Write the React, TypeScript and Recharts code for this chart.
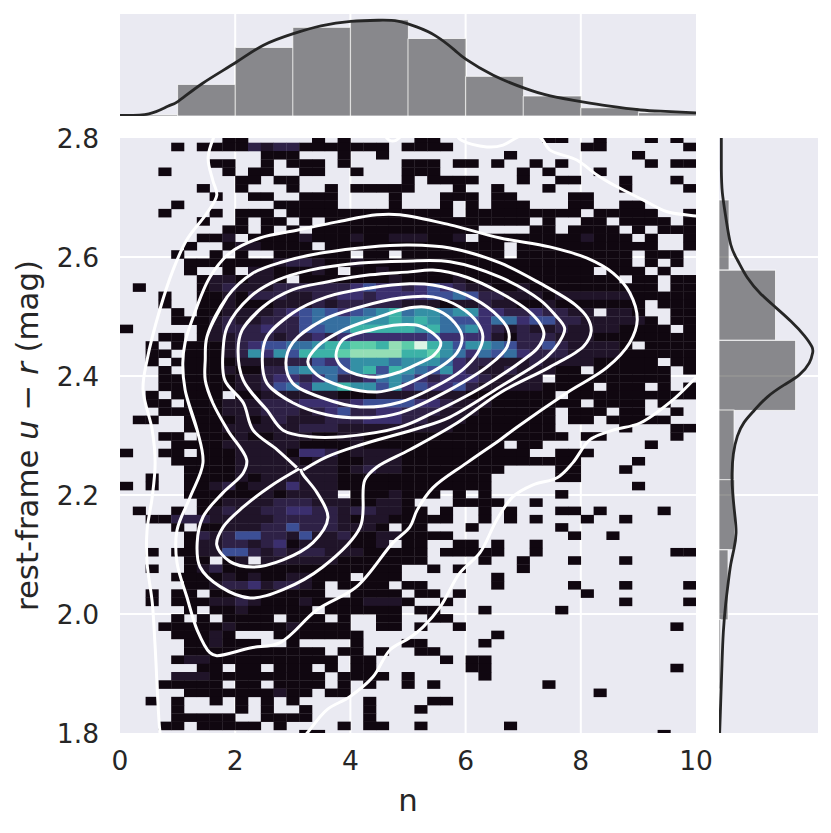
import React from 'react';
import { ComposedChart, CartesianGrid, XAxis, YAxis, Scatter, Line, Bar } from 'recharts';

// 2-D histogram of n (45 columns) and u-r (73 rows, top to bottom); '.' = empty, otherwise density level
const densityRows: string[] = [
  '........11 .....1.1.... .11........1 1..1...1.1.',
  '....1.1111 32331111111. 1111........ ..11......1',
  '.......... .111...1..1. ........1... ......1....',
  '.......11. .1.111.1.... 111.11.1..1. 1......1.11',
  '...1....1. 11..11..1... 111......1.1 ...1.......',
  '.........1 1.11........ 1.1111...1.. 11...1...1.',
  '......1..1 ...1..1.1111 1...1..1...1 .....1....1',
  '.......1.. 11..111....1 ...111.11... .11........',
  '....1..... ..11111....1 ...1.1.111.. .11..11....',
  '...1...1.1 11.111111111 1111.1111111 11.11111..1',
  '......1..1 .11.1.111111 1111111111.1 ..11.1111.1',
  '........11 .1.1.1111111 111111....11 .1111.1.111',
  '......112. 111121112112 22112.111111 112111.1..1',
  '.....1..12 21111.111111 11111111.111 11111111..1',
  '....1..1.1 ..111111.11. 11111111.111 111111.111.',
  '.....11111 112332112111 111111111111 111111.1.1.',
  '.....1..1. 2211121.1121 111111111111 111.111.1..',
  '......1221 221.11111112 111121111111 11111.11.11',
  '.1....1232 223333334544 345432211211 11111111.11',
  '...1..1121 333223344344 445565332221 22222211111',
  '...1..1121 112223233333 222122322112 1111111.111',
  '....1.1122 223456545678 677677443343 322.221..11',
  '....111232 233356667778 787655466455 33222221.11',
  '1.....1233 343355668888 878667432322 322221111.1',
  '...11.1223 332334344444 445444421333 22211111111',
  '..1.111123 45566788998a 9b8757765335 322221.1111',
  '..11.11123 74758889aaaa 889764656433 32222111111',
  '..1.111112 222335457776 777643322232 22211111.11',
  '...1.11121 133676657858 765743223222 11.111111.1',
  '...1111112 234434633467 64344432222. 111111111..',
  '...1111112 235647787757 454453222221 111.111.1.1',
  '..1.1111.1 122222211122 222221111111 .1111111111',
  '..11.11122 233344434555 544322211111 11.1111.1..',
  '...1111122 233323453344 333222111111 .111.11..1.',
  '.11..11112 123222333444 332221111111 .11.11111..',
  '.....11122 222233322222 222211111111 .....1...11',
  '...11.1112 112221122111 111111111111 1.11.....1.',
  '....111122 222211112111 11111111.11. .......1...',
  '1..11.1112 222144312222 1111111111.. 111........',
  '....111112 222212211222 111111111111 11....1....',
  '.....11112 222222212322 11111111.... 11...1.....',
  '..1..11112 122222211111 1111111..... 11.........',
  '1.1..11231 222422211111 1111111..... ......1....',
  '.....11111 1212222.1112 111.1.1..... 1..........',
  '......1122 223332221122 1...1111..1. ...........',
  '.1..1.1232 233443323322 11.1..1.1... 11.1....1..',
  '..11333222 223333321221 1111..1.1.1. ..1..1.....',
  '....1.1122 23353332221. 11...1...... 1..........',
  '.....13235 533252231122 1111........ .1..1......',
  '.....12233 23412222112. 11..11.1..1. ...........',
  '..1.112255 323233222111 11.11111..1. .........11',
  '.....11.12 .22222211111 11....1..1.. .1...1.....',
  '..1..12311 111111111111 ..1.1....1.. ...........',
  '....111121 21122111.111 .......1.... ...........',
  '.....11233 423321.1111. 11.....1.... .1...1....1',
  '..1.11.111 111111..1111 .11.1....... ..1........',
  '..1.111223 211121111222 1..1........ .....1....1',
  '.....1.112 11111.111111 .11...1..... 1..........',
  '....1.1.11 11.111.1..11 ..11........ ...........',
  '...1111121 11121111..11 .1..1....... .........1.',
  '....11121. ..1111111... .......1.... ...........',
  '.....11211 1..1....1... 11....1..... ...........',
  '.....11111 111111.11.1. .11......... ...........',
  '....122111 1111111.11.. ...1.11..... ...........',
  '......11.1 1.111.1.11.. .....11..... .........1.',
  '....222111 111111.1111. 1.....1..... ...........',
  '...11111.1 1.1111.1.1.. 1.1........1 ...........',
  '.....11111 11211.11.... ............ ...1.......',
  '..1.1..1.1 .1.1.....1.. ..11........ ...........',
  '....1....1 .1..1....1.. .1.......... ...........',
  '....11111. .1111....1.. ............ ...........',
  '...11.1111 1.1....1.11. .1......1... ...........',
  '.......... ....11...... ............ ........1..',
];

const nTicks = [0, 2, 4, 6, 8, 10];
const colorTicks = [1.8, 2.0, 2.2, 2.4, 2.6, 2.8];
const nGrid = [2, 4, 6, 8];
const colorGrid = [2.0, 2.2, 2.4, 2.6];

const nBinWidth = 10 / 45;
const colorBinHeight = 0.0139;
const colorTopEdge = 2.806;

type P = [number, number];

const contour1: P[] = [[3.75,2.435],[3.87,2.461],[4.34,2.477],[4.86,2.486],[5.21,2.484],[5.43,2.472],[5.57,2.456],[5.45,2.435],[5.16,2.42],[4.86,2.407],[4.46,2.398],[3.99,2.407],[3.82,2.419]];
const contour2: P[] = [[3.26,2.424],[3.42,2.449],[3.87,2.477],[4.46,2.498],[4.95,2.513],[5.29,2.516],[5.61,2.506],[5.87,2.482],[5.94,2.464],[5.85,2.439],[5.56,2.415],[5.21,2.397],[4.86,2.382],[4.46,2.373],[3.87,2.382],[3.42,2.402]];
const contour3: P[] = [[2.88,2.422],[3.0,2.456],[3.52,2.494],[4.17,2.516],[4.86,2.531],[5.43,2.533],[5.9,2.516],[6.21,2.489],[6.3,2.466],[6.21,2.439],[5.94,2.41],[5.43,2.38],[4.86,2.356],[4.17,2.348],[3.52,2.363],[3.0,2.388]];
const contour4: P[] = [[2.47,2.427],[2.55,2.466],[3.0,2.506],[3.59,2.533],[4.34,2.548],[5.03,2.555],[5.43,2.553],[6.02,2.536],[6.48,2.508],[6.74,2.477],[6.72,2.449],[6.42,2.419],[5.73,2.377],[4.86,2.338],[4.34,2.33],[3.59,2.335],[3.0,2.355],[2.55,2.388]];
const contour5: P[] = [[2.05,2.444],[2.12,2.477],[2.48,2.516],[3.0,2.545],[3.59,2.558],[4.34,2.57],[5.03,2.575],[5.43,2.578],[6.02,2.566],[6.6,2.54],[7.07,2.511],[7.3,2.487],[7.36,2.47],[7.25,2.447],[7.0,2.427],[6.3,2.382],[5.43,2.338],[4.86,2.314],[3.87,2.298],[3.3,2.298],[2.83,2.309],[2.55,2.343],[2.14,2.393]];
const contour6: P[] = [[3.18,2.242],[3.59,2.264],[4.17,2.284],[5.21,2.313],[5.73,2.331],[6.6,2.382],[7.41,2.432],[7.62,2.456],[7.72,2.48],[7.55,2.503],[7.29,2.528],[6.6,2.566],[5.73,2.592],[4.95,2.593],[4.17,2.59],[3.3,2.578],[2.73,2.561],[2.26,2.533],[1.86,2.482],[1.79,2.444],[1.82,2.393],[2.14,2.355],[2.31,2.309],[2.73,2.276],[3.07,2.246]];
const lobe: P[] = [[3.11,2.244],[2.6,2.214],[2.14,2.18],[1.79,2.146],[1.68,2.116],[1.91,2.088],[2.31,2.079],[2.83,2.091],[3.35,2.12],[3.61,2.162],[3.42,2.204],[3.16,2.237],[3.14,2.244]];
const contour7: P[] = [[1.48,2.427],[1.51,2.466],[1.86,2.533],[2.31,2.573],[2.83,2.592],[3.52,2.607],[4.34,2.617],[5.03,2.62],[5.73,2.615],[6.6,2.59],[7.29,2.556],[7.9,2.52],[8.12,2.497],[8.18,2.475],[8.05,2.45],[7.46,2.415],[6.6,2.372],[5.85,2.321],[5.03,2.276],[4.46,2.247],[4.25,2.225],[4.17,2.146],[3.52,2.079],[2.83,2.041],[2.26,2.027],[1.74,2.046],[1.39,2.079],[1.34,2.12],[1.44,2.163],[1.79,2.204],[2.14,2.237],[2.2,2.259],[1.87,2.309],[1.61,2.355],[1.48,2.393]];
const contour8: P[] = [[1.09,2.422],[1.13,2.456],[1.27,2.499],[1.56,2.566],[1.91,2.607],[2.43,2.632],[3.07,2.645],[3.77,2.659],[4.46,2.671],[4.86,2.671],[5.73,2.654],[6.6,2.632],[7.46,2.617],[8.11,2.598],[8.56,2.573],[8.85,2.54],[8.98,2.494],[8.85,2.456],[8.45,2.414],[7.76,2.372],[6.89,2.314],[6.6,2.293],[6.02,2.254],[5.43,2.212],[5.16,2.175],[5.03,2.146],[4.74,2.12],[4.11,2.046],[3.42,2.007],[2.78,1.952],[2.26,1.943],[1.68,1.93],[1.56,1.935],[1.34,1.973],[1.16,2.029],[0.99,2.086],[0.99,2.141],[1.22,2.197],[1.44,2.254],[1.34,2.309],[1.13,2.377]];
const outerLeft: P[] = [[1.68,2.813],[1.53,2.768],[1.61,2.729],[1.68,2.704],[1.51,2.674],[1.16,2.629],[0.92,2.578],[0.69,2.511],[0.47,2.427],[0.4,2.377],[0.56,2.309],[0.61,2.254],[0.56,2.197],[0.47,2.141],[0.47,2.086],[0.56,2.019],[0.61,1.945],[0.69,1.805],[0.73,1.78]];
const outerTop: P[] = [[5.82,2.813],[5.9,2.798],[6.37,2.785],[6.65,2.788],[6.91,2.802],[7.12,2.81],[7.31,2.8],[7.46,2.78],[7.93,2.763],[8.28,2.738],[8.63,2.718],[9.08,2.696],[9.5,2.676],[10,2.669],[10.16,2.667]];
const outerRight: P[] = [[10.16,2.41],[10,2.397],[9.6,2.36],[9.03,2.321],[8.56,2.309],[8.16,2.293],[7.86,2.254],[7.59,2.229],[7.17,2.217],[6.82,2.197],[6.54,2.158],[6.25,2.103],[5.9,2.069],[5.56,2.012],[5.26,1.978],[5.03,1.96],[4.69,1.94],[4.39,1.894],[3.99,1.861],[3.59,1.839],[3.25,1.8],[3.07,1.78]];
const topBlip: P[] = [[4.6,2.804],[4.68,2.796],[4.79,2.796],[4.88,2.804]];

const closedContours = [contour1, contour2, contour3, contour4, contour5, contour7, contour8];
const openContours = [contour6, lobe, outerLeft, outerTop, outerRight, topBlip];

const nHistBins = ['0-1', '1-2', '2-3', '3-4', '4-5', '5-6', '6-7', '7-8', '8-9', '9-10'];
const nHistCounts = [6, 142, 308, 398, 432, 348, 178, 90, 37, 15];
const nKdeX = [0, 0.5, 0.83, 1.01, 1.43, 2.01, 2.49, 3.01, 3.49, 4.01, 4.49, 4.82, 5.15, 5.48, 5.81, 6.01, 6.48, 7.02, 7.47, 8.03, 8.47, 9.04, 9.47, 10];
const nKdeY = [3, 10, 44, 66, 146, 240, 318, 370, 405, 425, 430, 426, 400, 360, 296, 254, 183, 125, 90, 63, 45, 27, 21, 14];

const colorHistCenters = [2.637, 2.519, 2.401, 2.284, 2.167, 2.049, 1.932, 1.815];
const colorHistCounts = [30, 169, 229, 45, 47, 27, 5, 3];
const colorKdeY = [2.8, 2.748, 2.708, 2.668, 2.621, 2.595, 2.565, 2.538, 2.515, 2.492, 2.468, 2.449, 2.439, 2.422, 2.402, 2.385, 2.365, 2.342, 2.322, 2.299, 2.269, 2.236, 2.203, 2.163, 2.136, 2.11, 2.083, 2.05, 2.017, 1.97, 1.917, 1.85, 1.8];
const colorKdeX = [7, 7, 10, 20, 35, 55, 85, 125, 170, 215, 255, 278, 280, 270, 240, 195, 145, 105, 75, 55, 43, 39, 41, 48, 51, 45, 35, 27, 20, 13, 9, 5, 2];

// ---- styles
const levelColors: Record<string, string> = {
  '1': '#100710', '2': '#201429', '3': '#2e2146', '4': '#3b2f6e', '5': '#3c4f95', '6': '#366fa0',
  '7': '#3490a5', '8': '#3cb2a7', '9': '#5ccda9', a: '#94deb5', b: '#def5e5',
};
const INK = '#262626';
const PANEL = '#EAEAF2';
const FONT = '"DejaVu Sans", sans-serif';
const CELL_W = 12.8;
const CELL_H = 8.27;
const COLOR_BAR_H = 70;

const cells: { x: number; y: number; level: string }[] = [];
densityRows.forEach((row, r) => {
  row.replace(/ /g, '').split('').forEach((ch, c) => {
    if (ch !== '.') cells.push({ x: (c + 0.5) * nBinWidth, y: colorTopEdge - (r + 0.5) * colorBinHeight, level: ch });
  });
});

const toPts = (pts: P[]) => pts.map(([x, y]) => ({ x, y }));
const wrap = (pts: P[]): P[] => [pts[pts.length - 2], pts[pts.length - 1], ...pts, pts[0], pts[1], pts[2]];

const nHist = nHistBins.map((bin, i) => ({ bin, count: nHistCounts[i] }));
const nKde = nKdeX.map((x, i) => ({ x, kde: nKdeY[i] }));
const colorHist = colorHistCenters.map((y, i) => ({ y, count: colorHistCounts[i] }));
const colorKde = colorKdeY.map((y, i) => ({ y, kde: colorKdeX[i] }));

// centripetal Catmull-Rom curve, smooth for unevenly spaced contour points
const contourCurve = (ctx: any) => {
  let pts: number[][] = [];
  return {
    areaStart() {},
    areaEnd() {},
    lineStart() { pts = []; },
    point(x: number, y: number) { pts.push([+x, +y]); },
    lineEnd() {
      if (!pts.length) return;
      ctx.moveTo(pts[0][0], pts[0][1]);
      for (let i = 0; i < pts.length - 1; i++) {
        const p0 = pts[Math.max(i - 1, 0)], p1 = pts[i], p2 = pts[i + 1], p3 = pts[Math.min(i + 2, pts.length - 1)];
        const d = (a: number[], b: number[]) => Math.sqrt(Math.hypot(a[0] - b[0], a[1] - b[1]));
        const l01 = d(p0, p1), l12 = d(p1, p2), l23 = d(p2, p3);
        const c1 = [p1[0], p1[1]], c2 = [p2[0], p2[1]];
        if (l01 > 1e-6) {
          const a = 2 * l01 * l01 + 3 * l01 * l12 + l12 * l12, n = 3 * l01 * (l01 + l12);
          c1[0] = (p1[0] * a - p0[0] * l12 * l12 + p2[0] * l01 * l01) / n;
          c1[1] = (p1[1] * a - p0[1] * l12 * l12 + p2[1] * l01 * l01) / n;
        }
        if (l23 > 1e-6) {
          const b = 2 * l23 * l23 + 3 * l23 * l12 + l12 * l12, m = 3 * l23 * (l23 + l12);
          c2[0] = (p2[0] * b + p1[0] * l23 * l23 - p3[0] * l12 * l12) / m;
          c2[1] = (p2[1] * b + p1[1] * l23 * l23 - p3[1] * l12 * l12) / m;
        }
        ctx.bezierCurveTo(c1[0], c1[1], c2[0], c2[1], p2[0], p2[1]);
      }
    },
  };
};

const CellShape = (p: any) => (
  <rect x={p.cx - CELL_W / 2} y={p.cy - CELL_H / 2} width={CELL_W + 0.3} height={CELL_H + 0.3} fill={levelColors[p.payload.level]} />
);
const ColorBarShape = (p: any) => (
  <rect x={p.x} y={p.y + (p.height || 0) / 2 - COLOR_BAR_H / 2} width={p.width} height={COLOR_BAR_H} fill={INK} fillOpacity={0.5} stroke="#fff" strokeOpacity={0.75} strokeWidth={1} />
);

const tickStyle = { fontSize: 26.5, fill: INK, fontFamily: FONT };

const YLabel = () => (
  <text transform="translate(38 435.5) rotate(-90)" textAnchor="middle" fontSize={30.8} fill={INK} fontFamily={FONT}>
    rest-frame <tspan fontStyle="italic">u</tspan> − <tspan fontStyle="italic">r</tspan> (mag)
  </text>
);
const XLabel = () => (
  <text x={408} y={811} textAnchor="middle" fontSize={30.8} fill={INK} fontFamily={FONT}>n</text>
);

export default function App() {
  return (
    <div style={{ position: 'absolute', left: 0, top: 0, width: 831, height: 833, background: '#fff', overflow: 'hidden' }}>
      <div style={{ position: 'absolute', left: 0, top: 0 }}>
        <ComposedChart width={831} height={833} data={cells} margin={{ top: 138, right: 135, bottom: 0, left: 0 }}>
          <CartesianGrid fill={PANEL} stroke="#fff" strokeWidth={2} verticalValues={nGrid} horizontalValues={colorGrid} />
          <XAxis dataKey="x" type="number" domain={[0, 10]} ticks={nTicks} allowDataOverflow height={100} axisLine={false} tickLine={false} tickSize={0} tickMargin={18} tick={tickStyle} interval={0} label={<XLabel />} />
          <YAxis dataKey="y" type="number" domain={[1.8, 2.8]} ticks={colorTicks} allowDataOverflow width={120} axisLine={false} tickLine={false} tickSize={0} tickMargin={21} tick={{ ...tickStyle, dy: 1 }} interval={0} tickFormatter={(v: number) => v.toFixed(1)} label={<YLabel />} />
          <Scatter data={cells} dataKey="y" shape={CellShape} isAnimationActive={false} />
        </ComposedChart>
      </div>
      <div style={{ position: 'absolute', left: 0, top: 0 }}>
        <ComposedChart width={831} height={833} margin={{ top: 138, right: 135, bottom: 100, left: 120 }}>
          <XAxis dataKey="x" type="number" domain={[0, 10]} allowDataOverflow hide />
          <YAxis type="number" domain={[1.8, 2.8]} allowDataOverflow hide />
          {closedContours.map((pts, i) => (
            <Line key={'c' + i} data={toPts(wrap(pts))} dataKey="y" type={contourCurve as any} stroke="#fff" strokeWidth={3} dot={false} activeDot={false} legendType="none" isAnimationActive={false} />
          ))}
          {openContours.map((pts, i) => (
            <Line key={'o' + i} data={toPts(pts)} dataKey="y" type={contourCurve as any} stroke="#fff" strokeWidth={3} dot={false} activeDot={false} legendType="none" isAnimationActive={false} />
          ))}
        </ComposedChart>
      </div>
      <div style={{ position: 'absolute', left: 120, top: 14 }}>
        <ComposedChart width={576} height={102} data={nHist} barCategoryGap={0} barGap={0} margin={{ top: 0, right: 0, bottom: 0, left: 0 }}>
          <CartesianGrid fill={PANEL} stroke="#fff" strokeWidth={2} horizontal={false} verticalValues={nGrid} xAxisId="kde" />
          <XAxis xAxisId="bins" dataKey="bin" type="category" hide />
          <XAxis xAxisId="kde" dataKey="x" type="number" domain={[0, 10]} hide />
          <YAxis type="number" domain={[0, 458]} hide allowDataOverflow />
          <Bar xAxisId="bins" dataKey="count" fill={INK} fillOpacity={0.5} stroke="#fff" strokeOpacity={0.75} strokeWidth={1} isAnimationActive={false} />
          <Line xAxisId="kde" data={nKde} dataKey="kde" type="natural" stroke={INK} strokeWidth={2.8} dot={false} activeDot={false} isAnimationActive={false} />
        </ComposedChart>
      </div>
      <div style={{ position: 'absolute', left: 718.5, top: 138 }}>
        <ComposedChart width={99} height={595} layout="vertical" data={colorHist} margin={{ top: 0, right: 0, bottom: 0, left: 0 }}>
          <CartesianGrid fill={PANEL} stroke="#fff" strokeWidth={2} vertical={false} horizontalValues={colorGrid} />
          <YAxis dataKey="y" type="number" domain={[1.8, 2.8]} reversed hide allowDataOverflow />
          <XAxis type="number" domain={[0, 296]} hide allowDataOverflow />
          <Bar dataKey="count" shape={ColorBarShape} isAnimationActive={false} />
          <Line data={colorKde} dataKey="kde" type="natural" stroke={INK} strokeWidth={2.8} dot={false} activeDot={false} isAnimationActive={false} />
        </ComposedChart>
      </div>
    </div>
  );
}
